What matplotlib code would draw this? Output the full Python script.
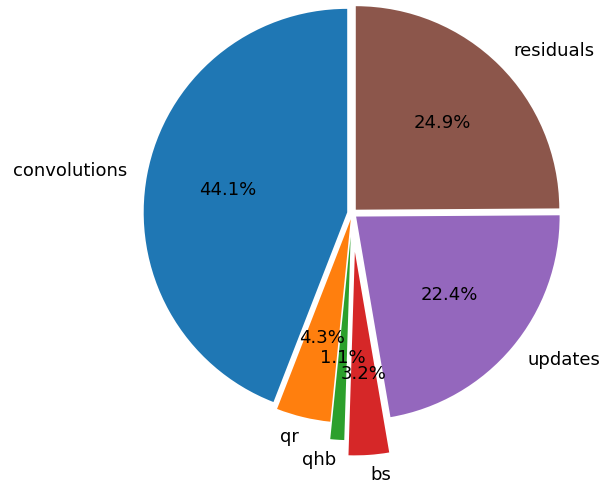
import matplotlib
matplotlib.use("Agg")
import matplotlib.pyplot as plt

labels = ["convolutions", "qr", "qhb", "bs", "updates", "residuals"]
values = [44.1, 4.3, 1.1, 3.2, 22.4, 24.9]
explode = [0.025, 0.03, 0.115, 0.19, 0.025, 0.025]

fig = plt.figure(figsize=(6.04, 4.83), dpi=100)
R_px = 203.5
side = 2.5 * R_px
cx, cy = 352.2, 483 - 213.3
ax = fig.add_axes([(cx - side / 2) / 604, (cy - side / 2) / 483, side / 604, side / 483])

ax.pie(values, labels=labels, explode=explode, autopct="%1.1f%%", startangle=90,
       textprops={"fontsize": 13})
ax.set_xlim(-1.25, 1.25)
ax.set_ylim(-1.25, 1.25)
ax.set_aspect("equal")

fig.savefig("out.png", dpi=100)
